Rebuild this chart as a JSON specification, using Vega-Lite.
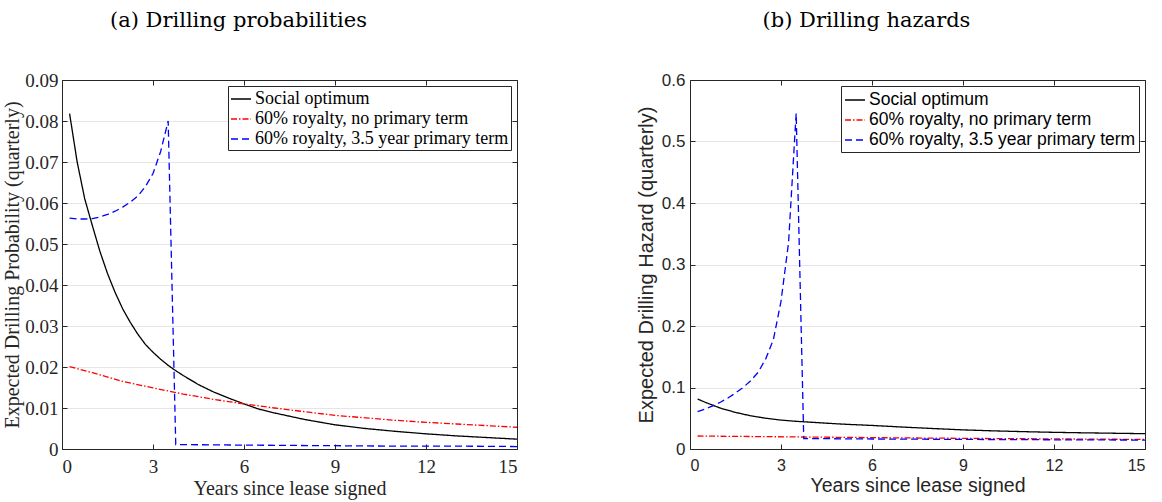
{
  "$schema": "https://vega.github.io/schema/vega-lite/v6.json",
  "autosize": {"type": "pad"},
  "padding": {"left": 2, "top": 10, "right": 5, "bottom": 5},
  "background": "white",
  "datasets": {
    "a": [
      {"s": "Social optimum", "t": 0.25, "v": 0.0818},
      {"s": "Social optimum", "t": 0.5, "v": 0.0700},
      {"s": "Social optimum", "t": 0.75, "v": 0.0610},
      {"s": "Social optimum", "t": 1.0, "v": 0.0545},
      {"s": "Social optimum", "t": 1.25, "v": 0.0482},
      {"s": "Social optimum", "t": 1.5, "v": 0.0428},
      {"s": "Social optimum", "t": 1.75, "v": 0.0382},
      {"s": "Social optimum", "t": 2.0, "v": 0.0342},
      {"s": "Social optimum", "t": 2.25, "v": 0.0309},
      {"s": "Social optimum", "t": 2.5, "v": 0.0280},
      {"s": "Social optimum", "t": 2.75, "v": 0.0255},
      {"s": "Social optimum", "t": 3.0, "v": 0.0236},
      {"s": "Social optimum", "t": 3.25, "v": 0.0219},
      {"s": "Social optimum", "t": 3.5, "v": 0.0204},
      {"s": "Social optimum", "t": 3.75, "v": 0.0191},
      {"s": "Social optimum", "t": 4.0, "v": 0.0179},
      {"s": "Social optimum", "t": 4.5, "v": 0.0157},
      {"s": "Social optimum", "t": 5.0, "v": 0.0139},
      {"s": "Social optimum", "t": 5.5, "v": 0.0124},
      {"s": "Social optimum", "t": 6.0, "v": 0.0110},
      {"s": "Social optimum", "t": 6.5, "v": 0.0097},
      {"s": "Social optimum", "t": 7.0, "v": 0.0088},
      {"s": "Social optimum", "t": 7.5, "v": 0.0080},
      {"s": "Social optimum", "t": 8.0, "v": 0.0072},
      {"s": "Social optimum", "t": 9.0, "v": 0.0059},
      {"s": "Social optimum", "t": 10.0, "v": 0.0050},
      {"s": "Social optimum", "t": 11.0, "v": 0.0043},
      {"s": "Social optimum", "t": 12.0, "v": 0.0037},
      {"s": "Social optimum", "t": 13.0, "v": 0.0032},
      {"s": "Social optimum", "t": 14.0, "v": 0.0028},
      {"s": "Social optimum", "t": 15.0, "v": 0.0024},
      {"s": "60% royalty, no primary term", "t": 0.25, "v": 0.0201},
      {"s": "60% royalty, no primary term", "t": 1.0, "v": 0.0186},
      {"s": "60% royalty, no primary term", "t": 2.0, "v": 0.0165},
      {"s": "60% royalty, no primary term", "t": 3.0, "v": 0.0149},
      {"s": "60% royalty, no primary term", "t": 4.0, "v": 0.0134},
      {"s": "60% royalty, no primary term", "t": 5.0, "v": 0.0121},
      {"s": "60% royalty, no primary term", "t": 6.0, "v": 0.0110},
      {"s": "60% royalty, no primary term", "t": 7.0, "v": 0.0100},
      {"s": "60% royalty, no primary term", "t": 8.0, "v": 0.0091},
      {"s": "60% royalty, no primary term", "t": 9.0, "v": 0.0082},
      {"s": "60% royalty, no primary term", "t": 10.0, "v": 0.0076},
      {"s": "60% royalty, no primary term", "t": 11.0, "v": 0.0070},
      {"s": "60% royalty, no primary term", "t": 12.0, "v": 0.0065},
      {"s": "60% royalty, no primary term", "t": 13.0, "v": 0.0061},
      {"s": "60% royalty, no primary term", "t": 14.0, "v": 0.0057},
      {"s": "60% royalty, no primary term", "t": 15.0, "v": 0.0053},
      {"s": "60% royalty, 3.5 year primary term", "t": 0.25, "v": 0.0563},
      {"s": "60% royalty, 3.5 year primary term", "t": 0.5, "v": 0.0561},
      {"s": "60% royalty, 3.5 year primary term", "t": 0.75, "v": 0.0561},
      {"s": "60% royalty, 3.5 year primary term", "t": 1.0, "v": 0.0562},
      {"s": "60% royalty, 3.5 year primary term", "t": 1.25, "v": 0.0566},
      {"s": "60% royalty, 3.5 year primary term", "t": 1.5, "v": 0.0572},
      {"s": "60% royalty, 3.5 year primary term", "t": 1.75, "v": 0.0580},
      {"s": "60% royalty, 3.5 year primary term", "t": 2.0, "v": 0.0590},
      {"s": "60% royalty, 3.5 year primary term", "t": 2.25, "v": 0.0602},
      {"s": "60% royalty, 3.5 year primary term", "t": 2.5, "v": 0.0617},
      {"s": "60% royalty, 3.5 year primary term", "t": 2.75, "v": 0.0640},
      {"s": "60% royalty, 3.5 year primary term", "t": 3.0, "v": 0.0672},
      {"s": "60% royalty, 3.5 year primary term", "t": 3.25, "v": 0.0725},
      {"s": "60% royalty, 3.5 year primary term", "t": 3.5, "v": 0.0800},
      {"s": "60% royalty, 3.5 year primary term", "t": 3.75, "v": 0.0011},
      {"s": "60% royalty, 3.5 year primary term", "t": 5.0, "v": 0.0010},
      {"s": "60% royalty, 3.5 year primary term", "t": 7.0, "v": 0.0009},
      {"s": "60% royalty, 3.5 year primary term", "t": 9.0, "v": 0.0008},
      {"s": "60% royalty, 3.5 year primary term", "t": 11.0, "v": 0.0007},
      {"s": "60% royalty, 3.5 year primary term", "t": 13.0, "v": 0.0007},
      {"s": "60% royalty, 3.5 year primary term", "t": 15.0, "v": 0.0006}
    ],
    "b": [
      {"s": "Social optimum", "t": 0.25, "v": 0.0813},
      {"s": "Social optimum", "t": 0.5, "v": 0.0760},
      {"s": "Social optimum", "t": 0.75, "v": 0.0712},
      {"s": "Social optimum", "t": 1.0, "v": 0.0665},
      {"s": "Social optimum", "t": 1.5, "v": 0.0595},
      {"s": "Social optimum", "t": 2.0, "v": 0.0540},
      {"s": "Social optimum", "t": 2.5, "v": 0.0500},
      {"s": "Social optimum", "t": 3.0, "v": 0.0470},
      {"s": "Social optimum", "t": 3.5, "v": 0.0450},
      {"s": "Social optimum", "t": 4.0, "v": 0.0435},
      {"s": "Social optimum", "t": 5.0, "v": 0.0405},
      {"s": "Social optimum", "t": 6.0, "v": 0.0383},
      {"s": "Social optimum", "t": 7.0, "v": 0.0357},
      {"s": "Social optimum", "t": 8.0, "v": 0.0333},
      {"s": "Social optimum", "t": 9.0, "v": 0.0311},
      {"s": "Social optimum", "t": 10.0, "v": 0.0295},
      {"s": "Social optimum", "t": 11.0, "v": 0.0282},
      {"s": "Social optimum", "t": 12.0, "v": 0.0271},
      {"s": "Social optimum", "t": 13.0, "v": 0.0263},
      {"s": "Social optimum", "t": 14.0, "v": 0.0256},
      {"s": "Social optimum", "t": 15.0, "v": 0.0249},
      {"s": "60% royalty, no primary term", "t": 0.25, "v": 0.0211},
      {"s": "60% royalty, no primary term", "t": 2.0, "v": 0.0203},
      {"s": "60% royalty, no primary term", "t": 4.0, "v": 0.0194},
      {"s": "60% royalty, no primary term", "t": 6.0, "v": 0.0185},
      {"s": "60% royalty, no primary term", "t": 8.0, "v": 0.0177},
      {"s": "60% royalty, no primary term", "t": 10.0, "v": 0.0170},
      {"s": "60% royalty, no primary term", "t": 12.0, "v": 0.0164},
      {"s": "60% royalty, no primary term", "t": 15.0, "v": 0.0156},
      {"s": "60% royalty, 3.5 year primary term", "t": 0.25, "v": 0.0607},
      {"s": "60% royalty, 3.5 year primary term", "t": 0.5, "v": 0.0650},
      {"s": "60% royalty, 3.5 year primary term", "t": 0.75, "v": 0.0700},
      {"s": "60% royalty, 3.5 year primary term", "t": 1.0, "v": 0.0760},
      {"s": "60% royalty, 3.5 year primary term", "t": 1.25, "v": 0.0830},
      {"s": "60% royalty, 3.5 year primary term", "t": 1.5, "v": 0.0910},
      {"s": "60% royalty, 3.5 year primary term", "t": 1.75, "v": 0.1000},
      {"s": "60% royalty, 3.5 year primary term", "t": 2.0, "v": 0.1110},
      {"s": "60% royalty, 3.5 year primary term", "t": 2.25, "v": 0.1250},
      {"s": "60% royalty, 3.5 year primary term", "t": 2.5, "v": 0.1470},
      {"s": "60% royalty, 3.5 year primary term", "t": 2.75, "v": 0.1780},
      {"s": "60% royalty, 3.5 year primary term", "t": 3.0, "v": 0.2400},
      {"s": "60% royalty, 3.5 year primary term", "t": 3.25, "v": 0.3360},
      {"s": "60% royalty, 3.5 year primary term", "t": 3.5, "v": 0.5460},
      {"s": "60% royalty, 3.5 year primary term", "t": 3.75, "v": 0.0170},
      {"s": "60% royalty, 3.5 year primary term", "t": 6.0, "v": 0.0163},
      {"s": "60% royalty, 3.5 year primary term", "t": 9.0, "v": 0.0156},
      {"s": "60% royalty, 3.5 year primary term", "t": 12.0, "v": 0.0150},
      {"s": "60% royalty, 3.5 year primary term", "t": 15.0, "v": 0.0145}
    ]
  },
  "spacing": 173,
  "bounds": "flush",
  "hconcat": [
    {
      "width": 455,
      "height": 369,
      "data": {"name": "a"},
      "title": {"text": "(a) Drilling probabilities", "font": "DejaVu Serif", "fontSize": 21, "fontWeight": "normal", "color": "black", "anchor": "middle", "dx": -51, "offset": 23, "baseline": "alphabetic"},
      "layer": [
        {
          "mark": {"type": "line", "strokeWidth": 1.3},
          "encoding": {
            "x": {"field": "t", "type": "quantitative", "scale": {"domain": [0, 15], "nice": false},
              "axis": {"orient": "bottom", "values": [0, 3, 6, 9, 12, 15], "title": "Years since lease signed", "titleFont": "Liberation Serif", "titleFontSize": 20, "titleFontWeight": "normal", "titleColor": "#262626", "titlePadding": 2, "labelFont": "Liberation Serif", "labelFontSize": 19, "labelColor": "#262626", "labelPadding": 13, "tickSize": -5, "tickColor": "#262626", "domainColor": "#262626", "grid": false}},
            "y": {"field": "v", "type": "quantitative", "scale": {"domain": [0, 0.09], "nice": false},
              "axis": {"orient": "left", "values": [0, 0.01, 0.02, 0.03, 0.04, 0.05, 0.06, 0.07, 0.08, 0.09], "labelExpr": "datum.value == 0 ? '0' : format(datum.value, '.2f')", "title": "Expected Drilling Probability (quarterly)", "titleFont": "Liberation Serif", "titleFontSize": 20, "titleFontWeight": "normal", "titleColor": "#262626", "titlePadding": 2, "labelFont": "Liberation Serif", "labelFontSize": 19, "labelColor": "#262626", "labelPadding": 9, "tickSize": -5, "tickColor": "#262626", "domainColor": "#262626", "grid": true, "gridColor": "#e6e6e6", "gridWidth": 1}},
            "color": {"field": "s", "type": "nominal",
              "scale": {"domain": ["Social optimum", "60% royalty, no primary term", "60% royalty, 3.5 year primary term"], "range": ["#000000", "#ff0000", "#0000ff"]},
              "legend": {"orient": "top-right", "offset": 6, "title": null, "strokeColor": "#262626", "fillColor": "white", "padding": 2, "symbolType": "stroke", "symbolSize": 400, "symbolStrokeWidth": 1.3, "labelFont": "Liberation Serif", "labelFontSize": 18, "labelColor": "black", "labelOffset": 3, "rowPadding": 0, "labelLimit": 400}},
            "strokeDash": {"field": "s", "type": "nominal",
              "scale": {"domain": ["Social optimum", "60% royalty, no primary term", "60% royalty, 3.5 year primary term"], "range": [[1, 0], [6, 2, 1.5, 2], [7, 4]]},
              "legend": {"orient": "top-right", "offset": 6, "title": null, "strokeColor": "#262626", "fillColor": "white", "padding": 2, "symbolType": "stroke", "symbolSize": 400, "symbolStrokeWidth": 1.3, "labelFont": "Liberation Serif", "labelFontSize": 18, "labelColor": "black", "labelOffset": 3, "rowPadding": 0, "labelLimit": 400}}
          }
        },
        {
          "mark": {"type": "line", "strokeOpacity": 0},
          "encoding": {
            "x": {"field": "t", "type": "quantitative", "axis": {"orient": "top", "values": [0, 3, 6, 9, 12, 15], "labels": false, "title": null, "tickSize": -5, "tickColor": "#262626", "domainColor": "#262626", "grid": false}},
            "y": {"field": "v", "type": "quantitative", "axis": {"orient": "right", "values": [0, 0.01, 0.02, 0.03, 0.04, 0.05, 0.06, 0.07, 0.08, 0.09], "labels": false, "title": null, "tickSize": -5, "tickColor": "#262626", "domainColor": "#262626", "grid": false}}
          }
        }
      ],
      "resolve": {"axis": {"x": "independent", "y": "independent"}}
    },
    {
      "width": 455,
      "height": 369,
      "data": {"name": "b"},
      "title": {"text": "(b) Drilling hazards", "font": "DejaVu Serif", "fontSize": 21, "fontWeight": "normal", "color": "black", "anchor": "middle", "dx": -51, "offset": 23, "baseline": "alphabetic"},
      "layer": [
        {
          "mark": {"type": "line", "strokeWidth": 1.3},
          "encoding": {
            "x": {"field": "t", "type": "quantitative", "scale": {"domain": [0, 15], "nice": false},
              "axis": {"orient": "bottom", "values": [0, 3, 6, 9, 12, 15], "title": "Years since lease signed", "titleFont": "Liberation Sans", "titleFontSize": 19.5, "titleFontWeight": "normal", "titleColor": "#262626", "titlePadding": 3, "labelFont": "Liberation Sans", "labelFontSize": 16, "labelColor": "#262626", "labelPadding": 13.4, "tickSize": -5, "tickColor": "#262626", "domainColor": "#262626", "grid": false}},
            "y": {"field": "v", "type": "quantitative", "scale": {"domain": [0, 0.6], "nice": false},
              "axis": {"orient": "left", "values": [0, 0.1, 0.2, 0.3, 0.4, 0.5, 0.6], "labelExpr": "datum.value == 0 ? '0' : format(datum.value, '.1f')", "title": "Expected Drilling Hazard (quarterly)", "titleFont": "Liberation Sans", "titleFontSize": 20, "titleFontWeight": "normal", "titleColor": "#262626", "titlePadding": 5, "labelFont": "Liberation Sans", "labelFontSize": 17, "labelColor": "#262626", "labelPadding": 10, "tickSize": -5, "tickColor": "#262626", "domainColor": "#262626", "grid": true, "gridColor": "#e6e6e6", "gridWidth": 1}},
            "color": {"field": "s", "type": "nominal",
              "scale": {"domain": ["Social optimum", "60% royalty, no primary term", "60% royalty, 3.5 year primary term"], "range": ["#000000", "#ff0000", "#0000ff"]},
              "legend": {"orient": "top-right", "offset": 6, "title": null, "strokeColor": "#262626", "fillColor": "white", "padding": 3, "symbolType": "stroke", "symbolSize": 400, "symbolStrokeWidth": 1.3, "labelFont": "Liberation Sans", "labelFontSize": 17.5, "labelColor": "black", "labelOffset": 3, "rowPadding": 0, "labelLimit": 400}},
            "strokeDash": {"field": "s", "type": "nominal",
              "scale": {"domain": ["Social optimum", "60% royalty, no primary term", "60% royalty, 3.5 year primary term"], "range": [[1, 0], [6, 2, 1.5, 2], [7, 4]]},
              "legend": {"orient": "top-right", "offset": 6, "title": null, "strokeColor": "#262626", "fillColor": "white", "padding": 3, "symbolType": "stroke", "symbolSize": 400, "symbolStrokeWidth": 1.3, "labelFont": "Liberation Sans", "labelFontSize": 17.5, "labelColor": "black", "labelOffset": 3, "rowPadding": 0, "labelLimit": 400}}
          }
        },
        {
          "mark": {"type": "line", "strokeOpacity": 0},
          "encoding": {
            "x": {"field": "t", "type": "quantitative", "axis": {"orient": "top", "values": [0, 3, 6, 9, 12, 15], "labels": false, "title": null, "tickSize": -5, "tickColor": "#262626", "domainColor": "#262626", "grid": false}},
            "y": {"field": "v", "type": "quantitative", "axis": {"orient": "right", "values": [0, 0.1, 0.2, 0.3, 0.4, 0.5, 0.6], "labels": false, "title": null, "tickSize": -5, "tickColor": "#262626", "domainColor": "#262626", "grid": false}}
          }
        }
      ],
      "resolve": {"axis": {"x": "independent", "y": "independent"}}
    }
  ],
  "resolve": {"scale": {"color": "independent", "strokeDash": "independent"}, "legend": {"color": "independent", "strokeDash": "independent"}},
  "config": {"view": {"stroke": null}}
}
